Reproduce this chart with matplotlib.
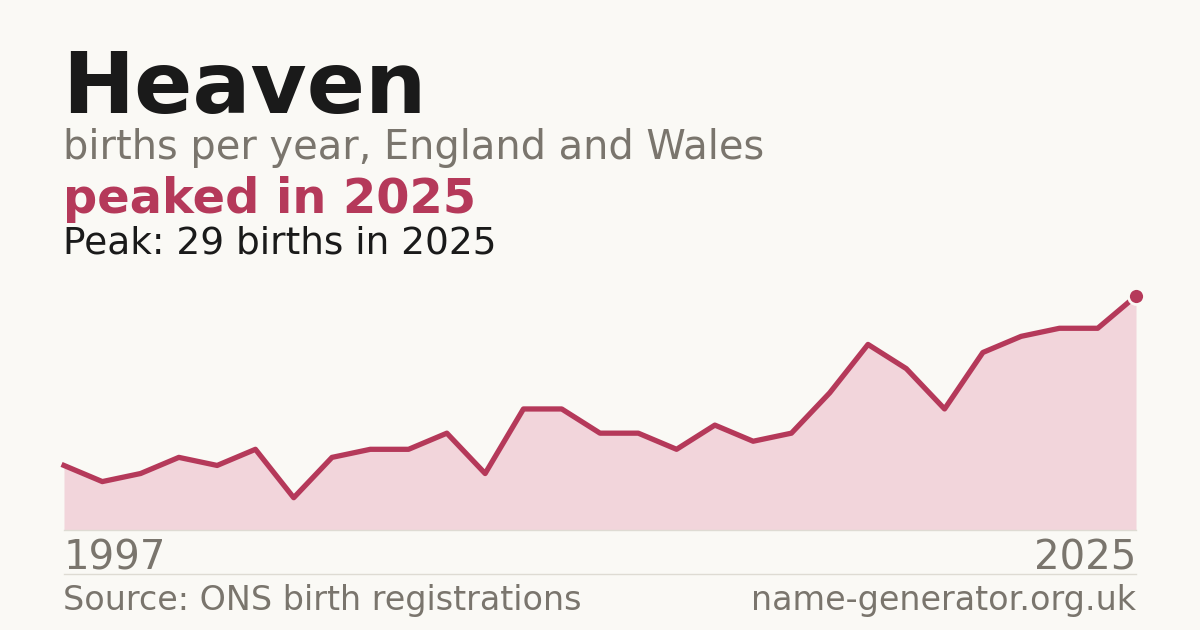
import numpy as np
import matplotlib
matplotlib.use("Agg")
import matplotlib.pyplot as plt

# births per year for "Heaven", England and Wales
years = list(range(1997, 2026))
births = [8, 6, 7, 9, 8, 10, 4, 9, 10, 10, 12, 7, 15, 15, 12, 12,
          10, 13, 11, 12, 17, 23, 20, 15, 22, 24, 25, 25, 29]

bg = "#faf9f5"
red = "#b5395a"
fill = "#f2d5db"
grey = "#7a756d"
dark = "#1a1a1a"

fig = plt.figure(figsize=(12, 6.3), dpi=100, facecolor=bg)

ax = fig.add_axes([64 / 1200, 100 / 630, 1072 / 1200, 234 / 630])
ax.set_facecolor(bg)
ax.fill_between(years, births, 0, color=fill, lw=0, zorder=1)
ax.plot(years, births, color=red, lw=3.8, solid_joinstyle="round", zorder=2, clip_on=False)
ax.plot(years[-1], births[-1], "o", ms=11.5, color=red, mec=bg, mew=2, zorder=3, clip_on=False)
ax.set_xlim(years[0], years[-1])
ax.set_ylim(0, max(births))
ax.axis("off")

# thin rules under the chart and above the footer
fig.add_artist(plt.Line2D([64 / 1200, 1136 / 1200], [100 / 630, 100 / 630], color="#dedbd3", lw=1))
fig.add_artist(plt.Line2D([64 / 1200, 1136 / 1200], [56 / 630, 56 / 630], color="#dedbd3", lw=1))

def put(x, y, s, size, color, weight="normal", ha="left"):
    fig.text(x / 1200, 1 - y / 630, s, fontsize=size, color=color, fontweight=weight,
             ha=ha, va="baseline", family="DejaVu Sans")

put(62, 113, "Heaven", 62, dark, "bold")
put(63, 159, "births per year, England and Wales", 28.7, grey)
put(63, 213, "peaked in 2025", 34.5, red, "bold")
put(63, 253, "Peak: 29 births in 2025", 27, dark)
put(64, 569, str(years[0]), 29, grey)
put(1136, 569, str(years[-1]), 29, grey, ha="right")
put(63, 610, "Source: ONS birth registrations", 24, grey)
put(1136, 610, "name-generator.org.uk", 24, grey, ha="right")

fig.savefig("out.png", dpi=100, facecolor=bg)
